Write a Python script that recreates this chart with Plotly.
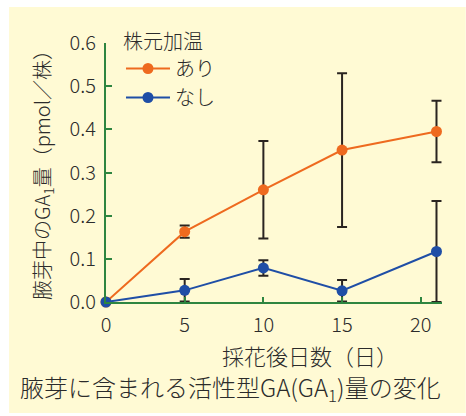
import plotly.graph_objects as go

# Days after harvest and GA1 content (pmol / plant)
days = [0, 5, 10, 15, 21]
heated = [0.0, 0.163, 0.260, 0.352, 0.395]
heated_err = [0.0, 0.014, 0.113, 0.178, 0.071]
unheated = [0.0, 0.027, 0.079, 0.026, 0.117]
unheated_err = [0.0, 0.026, 0.018, 0.025, 0.117]

x_ticks = [0, 5, 10, 15, 20]
y_ticks = [0.0, 0.1, 0.2, 0.3, 0.4, 0.5, 0.6]

W, H = 466, 416
X_MAX = 21.35
L, T, B = 106, 43, 302          # plot area edges in pixels
R = L + 15.75 * X_MAX           # 15.75 px per day

def px(x):
    return (x - L) / (R - L)

def py(y):
    return (B - y) / (B - T)

FONT = "Noto Sans CJK JP"
TXT = "#2b2b2b"
GREEN = "#2e8540"
ORANGE = "#ee6a1f"
BLUE = "#1f4ea6"
BAR = "#2a2420"

def f(size):
    return dict(family=FONT, size=size, color=TXT, weight=300)

fig = go.Figure()
for name, vals, errs, col in [("あり", heated, heated_err, ORANGE),
                              ("なし", unheated, unheated_err, BLUE)]:
    fig.add_trace(go.Scatter(
        x=days, y=vals, name=name, mode="lines+markers",
        line=dict(color=col, width=2),
        marker=dict(color=col, size=11),
        error_y=dict(type="data", array=errs, visible=True,
                     color=BAR, thickness=2, width=5),
        cliponaxis=False,
    ))

fig.update_layout(
    width=W, height=H,
    margin=dict(l=L, r=W - R, t=T, b=H - B),
    paper_bgcolor="white",
    plot_bgcolor="rgba(0,0,0,0)",
    font=f(20),
    showlegend=True,
    legend=dict(
        title=dict(text="株元加温", font=f(20)),
        x=px(121), y=py(23), xanchor="left", yanchor="top",
        itemwidth=44, tracegroupgap=0,
        bgcolor="rgba(0,0,0,0)", font=f(20),
    ),
    xaxis=dict(
        range=[0, X_MAX], tickvals=x_ticks, ticks="inside", ticklen=5,
        tickwidth=2, tickcolor=GREEN, showline=True, linecolor=GREEN,
        linewidth=2, showgrid=False, zeroline=False, ticklabelstandoff=4,
        tickfont=f(20),
    ),
    yaxis=dict(
        range=[0, 0.6], tickvals=y_ticks, tickformat=".1f", ticks="inside",
        ticklen=6, tickwidth=2, tickcolor=GREEN, showline=True,
        linecolor=GREEN, linewidth=2, showgrid=False, zeroline=False,
        ticklabelstandoff=4, tickfont=f(20),
    ),
    shapes=[dict(type="rect", xref="paper", yref="paper",
                 x0=px(9), x1=px(466), y0=py(413), y1=py(7),
                 fillcolor="#fffad4", line=dict(width=0), layer="below")],
    annotations=[
        dict(text="腋芽中のGA<sub>1</sub>量（pmol／株）", textangle=-90,
             xref="paper", yref="paper", x=px(42), y=py(170),
             xanchor="center", yanchor="middle",
             showarrow=False, font=f(20)),
        dict(text="採花後日数（日）", xref="paper", yref="paper",
             x=px(310), y=py(355), xanchor="center", yanchor="middle",
             showarrow=False, font=f(22)),
        dict(text="腋芽に含まれる活性型GA(GA<sub>1</sub>)量の変化",
             xref="paper", yref="paper", x=px(18), y=py(388),
             xanchor="left", yanchor="middle", showarrow=False,
             font=f(24)),
    ],
)

fig.write_html("out.html")
